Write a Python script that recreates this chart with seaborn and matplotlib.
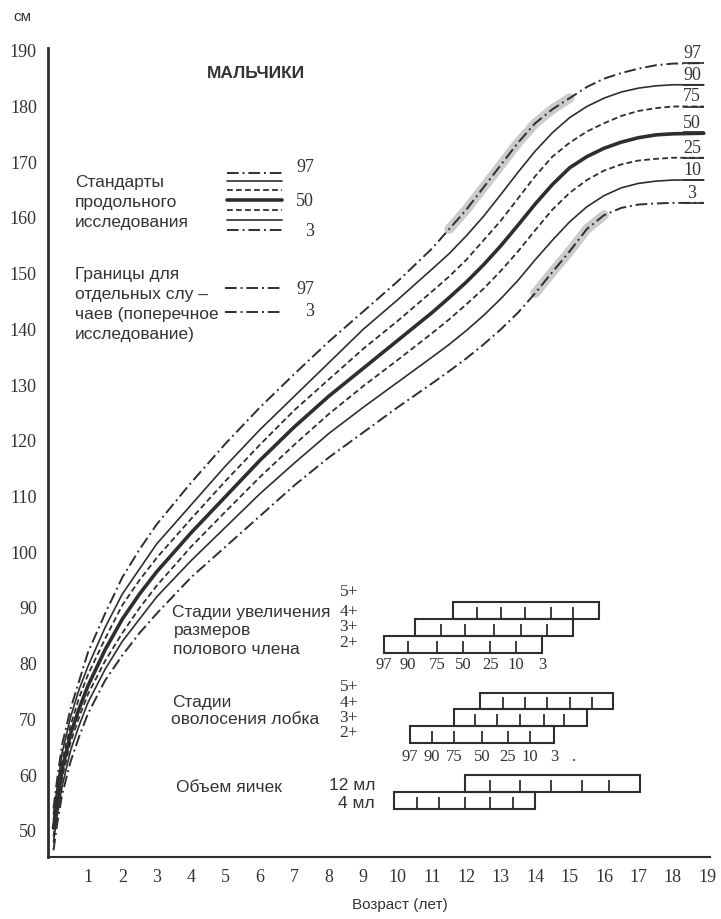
import numpy as np
import pandas as pd
import matplotlib
matplotlib.use("Agg")
import matplotlib.pyplot as plt
import seaborn as sns
from matplotlib.lines import Line2D
from matplotlib.patches import Rectangle

# ---------------- data ----------------
AGES = [0, 0.1, 0.25, 0.5, 0.75, 1, 1.5, 2, 2.5, 3, 4, 5, 6, 7, 8, 9, 10, 11, 11.5,
        12, 12.5, 13, 13.5, 14, 14.5, 15, 15.5, 16, 16.5, 17, 17.5, 18, 18.9]
P97 = [54, 59, 65.5, 72, 77, 82, 89, 95.5, 100.5, 105, 112.5, 119.5, 126, 132, 137.8, 143.2, 148.6,
       154.5, 158, 161.5, 165.5, 169.5, 173.5, 177, 179.5, 181.5, 183.5, 185, 186, 186.8, 187.4, 187.7, 187.8]
P90 = [53, 57.5, 64, 70.5, 75.5, 79.5, 86.5, 92.5, 97, 101.5, 108.5, 115.5, 122, 128, 134, 140, 145.3,
       150.8, 153.6, 156.8, 160.3, 164.2, 168.2, 172, 175.3, 178, 180, 181.5, 182.6, 183.3, 183.7, 183.9, 183.9]
P75 = [52, 56.5, 62.5, 69, 74, 78, 84.5, 90.5, 95, 99, 106, 112.8, 119.3, 125.5, 131, 136.5, 141.5,
       146.8, 149.5, 152.5, 156, 159.5, 163.5, 167.5, 171, 173.5, 175.5, 177, 178.3, 179.2, 179.7, 180, 180]
P50 = [50.5, 55, 61, 67.5, 72, 76, 82.5, 88, 92.5, 96.5, 103.5, 110, 116.5, 122.5, 128, 133, 138,
       143, 145.7, 148.5, 151.6, 155, 158.7, 162.5, 166, 169, 171, 172.5, 173.6, 174.4, 174.9, 175.1, 175.2]
P25 = [49, 53.5, 59.5, 66, 70.5, 74.5, 80.5, 85.5, 90, 94, 101, 107.3, 113.5, 119.3, 124.8, 129.8, 134.5,
       139.3, 141.8, 144.5, 147.3, 150.5, 154, 157.8, 161.5, 164.5, 166.8, 168.5, 169.6, 170.3, 170.6, 170.8, 170.8]
P10 = [48, 52.5, 58, 64.5, 69, 73, 79, 84, 88, 92, 98.5, 104.5, 110.5, 116, 121.3, 126, 130.5,
       135, 137.3, 139.8, 142.5, 145.5, 148.8, 152.5, 156, 159.3, 162, 164, 165.4, 166.2, 166.6, 166.8, 166.8]
P3 = [46.5, 51, 56.5, 62.5, 67, 71, 77, 81.5, 85.5, 89, 95.5, 101, 106.5, 112, 117, 121.5, 126,
      130.3, 132.5, 134.8, 137.3, 140, 143, 146.5, 150.3, 154, 158, 160.5, 161.8, 162.4, 162.6, 162.7, 162.7]
PERCENTILES = [97, 90, 75, 50, 25, 10, 3]
CURVES = {97: P97, 90: P90, 75: P75, 50: P50, 25: P25, 10: P10, 3: P3}

# ages at which percentiles 97,90,75,50,25,10,3 reach a stage
PENIS_2 = [9.6, 10.3, 11.15, 11.9, 12.7, 13.45, 14.2]
PENIS_3 = [10.5, 11.25, 11.95, 12.8, 13.6, 14.35, 15.1]
PENIS_4 = [11.6, 12.3, 13.0, 13.7, 14.45, 15.1, 15.85]
PUBIC_2 = [10.35, 11.0, 11.65, 12.45, 13.2, 13.85, 14.55]
PUBIC_3 = [11.65, 12.25, 12.9, 13.55, 14.25, 14.85, 15.5]
PUBIC_4 = [12.4, 13.05, 13.7, 14.35, 15.0, 15.65, 16.25]
TESTIS_4 = [9.9, 10.55, 11.2, 11.95, 12.7, 13.35, 14.0]
TESTIS_12 = [11.95, 12.7, 13.55, 14.45, 15.35, 16.15, 17.05]

YTICKS = list(range(50, 191, 10))
XTICKS = list(range(1, 20))

# ---------------- style ----------------
sns.set_theme(style="white")
plt.rcParams['font.family'] = ['Liberation Sans', 'DejaVu Sans']
SERIF = ['Liberation Serif', 'DejaVu Serif']
DARK = '#2e2e2e'
TXT = '#333333'

W, H = 721, 919
fig = plt.figure(figsize=(W / 100, H / 100), dpi=100)
fig.patch.set_facecolor('white')
ax = fig.add_axes([48 / W, 1 - 857 / H, (710 - 48) / W, (857 - 48) / H])
ax.set_facecolor('white')
ax.set_xlim(-0.16, 19.08)
ax.set_ylim(45.3, 190.5)

DASHDOT = (0, (6, 2, 1, 2))
DASHED = (0, (3.2, 1.8))
STYLE = {97: (DASHDOT, 1.4), 90: ('-', 1.2), 75: (DASHED, 1.3), 50: ('-', 2.6),
         25: (DASHED, 1.3), 10: ('-', 1.2), 3: (DASHDOT, 1.4)}

ages = np.array(AGES)
# gray smears in pubertal zone
m_hi = (ages >= 11.5) & (ages <= 15)
m_lo = (ages >= 14) & (ages <= 16)
sns.lineplot(x=ages[m_hi], y=np.array(P97)[m_hi], ax=ax, color='#8c8c8c', alpha=0.45,
             lw=7, estimator=None, sort=False, legend=False, solid_capstyle='round')
sns.lineplot(x=ages[m_lo], y=np.array(P3)[m_lo], ax=ax, color='#8c8c8c', alpha=0.45,
             lw=7, estimator=None, sort=False, legend=False, solid_capstyle='round')

for p in PERCENTILES:
    ls, lw = STYLE[p]
    sns.lineplot(x=AGES, y=CURVES[p], ax=ax, color=DARK, lw=lw, linestyle=ls,
                 estimator=None, sort=False, legend=False)
    end = CURVES[p][-1]
    ax.hlines(end, 18.3, 18.92, color=DARK, lw=lw if p == 50 else 1.2)
    ax.text(18.56, end + 0.9, str(p), ha='center', va='baseline', fontsize=13,
            family=SERIF, color=TXT)

# axes styling
for s in ['top', 'right']:
    ax.spines[s].set_visible(False)
ax.spines['left'].set_linewidth(2.0)
ax.spines['bottom'].set_linewidth(1.5)
ax.spines['left'].set_color(DARK)
ax.spines['bottom'].set_color(DARK)
ax.set_yticks(YTICKS)
ax.set_xticks(XTICKS)
ax.set_yticklabels([str(v) for v in YTICKS], family=SERIF, fontsize=13, color=TXT)
ax.set_xticklabels([str(v) for v in XTICKS], family=SERIF, fontsize=13, color=TXT)
ax.tick_params(axis='both', direction='in', length=6, width=1.2, color=DARK)
ax.tick_params(axis='y', pad=8)
ax.tick_params(axis='x', pad=9)
ax.grid(False)


# ---------------- puberty bars ----------------
def draw_bar(a, y0, h):
    ax.add_patch(Rectangle((a[0], y0), a[-1] - a[0], h, fill=False, lw=1.5, ec=DARK))
    ax.vlines(a[1:-1], y0, y0 + 0.7 * h, color=DARK, lw=1.3)


draw_bar(PENIS_2, 81.9, 3.05)
draw_bar(PENIS_3, 84.95, 3.05)
draw_bar(PENIS_4, 88.0, 3.05)
draw_bar(PUBIC_2, 65.8, 2.95)
draw_bar(PUBIC_3, 68.8, 3.0)
draw_bar(PUBIC_4, 71.9, 2.9)
draw_bar(TESTIS_4, 53.95, 3.05)
draw_bar(TESTIS_12, 57.0, 3.0)

for a, lab in zip(PENIS_2, PERCENTILES):
    ax.text(a, 79.8, str(lab), ha='center', va='center', fontsize=12, family=SERIF, color=TXT)
for a, lab in zip(PUBIC_2, PERCENTILES):
    ax.text(a, 63.3, str(lab), ha='center', va='center', fontsize=12, family=SERIF, color=TXT)


# ---------------- texts & legend (figure pixel positions) ----------------
def ftext(x, y, s, ha='left', size=12.5, family=None, weight='normal', va='center'):
    fig.text(x / W, 1 - y / H, s, ha=ha, va=va, fontsize=size,
             family=family if family else ['Liberation Sans', 'DejaVu Sans'],
             weight=weight, color=TXT)


ftext(22, 17, 'см', ha='center', size=11)
ftext(256, 73, 'МАЛЬЧИКИ', ha='center', size=12.5, weight='bold')
for i, s in enumerate(['Стандарты', 'продольного', 'исследования']):
    ftext(75, 182 + 20 * i, s)
for i, s in enumerate(['Границы для', 'отдельных слу –', 'чаев (поперечное', 'исследование)']):
    ftext(75, 274 + 20 * i, s)

leg_y = [173, 181, 190, 200, 210, 220, 230]
for p, yy in zip(PERCENTILES, leg_y):
    ls, lw = STYLE[p]
    fig.add_artist(Line2D([227 / W, 282 / W], [1 - yy / H] * 2, color=DARK, lw=lw, linestyle=ls))
for p, yy in [(97, 168), (50, 201), (3, 231)]:
    ftext(314, yy, str(p), ha='right', size=13, family=SERIF)
for yy in [288, 312]:
    fig.add_artist(Line2D([225 / W, 282 / W], [1 - yy / H] * 2, color=DARK, lw=1.4, linestyle=DASHDOT))
ftext(314, 289, '97', ha='right', size=13, family=SERIF)
ftext(314, 311, '3', ha='right', size=13, family=SERIF)

ftext(172, 613, 'Стадии увеличения')
ftext(174, 631, 'размеров')
ftext(173, 649, 'полового члена')
for s, yy in [('5+', 592), ('4+', 612), ('3+', 627), ('2+', 643)]:
    ftext(358, yy, s, ha='right', size=12.5, family=SERIF)

ftext(172, 702, 'Стадии')
ftext(171, 720, 'оволосения лобка')
for s, yy in [('5+', 687), ('4+', 703), ('3+', 718), ('2+', 733)]:
    ftext(358, yy, s, ha='right', size=12.5, family=SERIF)
ftext(574, 757, '.', ha='center', size=12, family=SERIF)

ftext(176, 787, 'Объем яичек')
ftext(375, 785, '12 мл', ha='right')
ftext(375, 803, '4 мл', ha='right')

ftext(400, 905, 'Возраст (лет)', ha='center', size=11)

fig.savefig('out.png', dpi=100, facecolor='white')
